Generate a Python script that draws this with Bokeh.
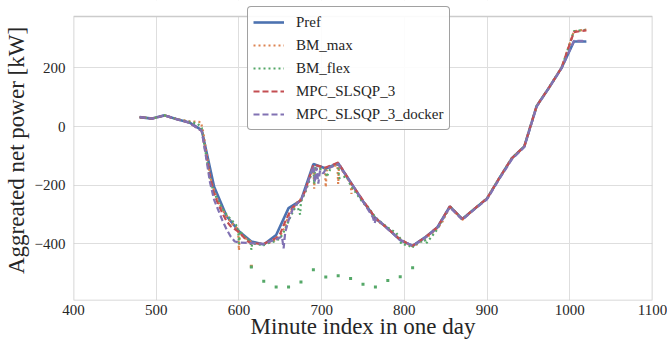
from bokeh.plotting import figure
from bokeh.models import Range1d, Legend, LegendItem, FixedTicker
from bokeh.embed import file_html
from bokeh.resources import INLINE

# ---------------- data ----------------
pref_x = [480, 495, 510, 525, 540, 555, 570, 585, 600, 615, 630, 645, 660, 675, 690, 705, 720,
          735, 750, 765, 780, 795, 810, 825, 840, 855, 870, 885, 900, 915, 930, 945, 960, 975,
          990, 1005, 1020]
pref_y = [32, 27, 38, 25, 14, -12, -205, -305, -357, -392, -402, -370, -278, -252, -128, -143, -125,
          -190, -255, -313, -348, -387, -407, -378, -343, -272, -315, -280, -245, -175, -108, -68, 70, 133,
          200, 290, 290]

bm_max_x = [480, 495, 510, 525, 540, 550, 554, 557, 560, 563, 566, 569, 572, 576, 580, 584, 588, 592,
            596, 599, 600, 601, 605, 610, 614, 616, 625, 635, 645, 650, 655, 660, 665, 670, 675, 680,
            685, 690, 691, 692, 700, 704, 705, 706, 712, 719, 720, 721, 728, 735, 736, 737, 745, 752,
            760, 767, 775, 783, 790, 797, 805, 812, 820, 828, 835, 845, 855, 870, 885, 900, 915, 930,
            945, 960, 975, 990, 1005, 1020]
bm_max_y = [32, 27, 38, 25, 18, 16, 15, -20, -80, -130, -180, -210, -235, -262, -285, -300, -318, -332,
            -342, -350, -422, -362, -375, -385, -392, -397, -400, -398, -386, -372, -345, -305, -282, -260,
            -246, -222, -180, -140, -212, -146, -142, -146, -207, -150, -136, -132, -196, -136, -162, -195,
            -230, -202, -232, -266, -292, -322, -337, -356, -372, -386, -402, -410, -390, -376, -360, -330,
            -274, -318, -280, -245, -175, -108, -68, 70, 133, 200, 325, 330]

bm_flex_x = [480, 495, 510, 525, 540, 550, 555, 558, 561, 564, 567, 570, 575, 580, 585, 590, 595, 599,
             600, 601, 605, 610, 614, 615, 616, 630, 631, 645, 650, 655, 660, 665, 670, 674, 675, 676,
             680, 685, 690, 691, 692, 705, 706, 712, 720, 721, 730, 735, 745, 750, 755, 765, 770, 780,
             790, 795, 796, 805, 810, 811, 825, 826, 840, 855, 870, 885, 900, 915, 930, 945, 960, 975,
             990, 1005, 1020]
bm_flex_y = [32, 27, 38, 25, 16, 10, -5, -60, -110, -160, -200, -225, -255, -280, -300, -316, -330, -345,
             -400, -356, -370, -385, -392, -420, -398, -405, -400, -390, -380, -355, -322, -292, -266, -300,
             -255, -250, -226, -186, -136, -196, -142, -148, -172, -136, -130, -176, -170, -200, -240, -260,
             -270, -310, -322, -345, -362, -382, -400, -405, -414, -405, -386, -400, -350, -272, -316, -280,
             -245, -175, -108, -68, 70, 133, 200, 325, 330]

# isolated low points of BM_flex / BM_max (drawn as dots)
flex_low_x = [615, 630, 645, 660, 675, 690, 705, 720, 735, 750, 765, 780, 795, 810]
flex_low_y = [-479, -527, -547, -547, -530, -488, -513, -509, -518, -538, -547, -525, -512, -481]
max_low_x = [615]
max_low_y = [-476]

mpc_x = [480, 495, 510, 525, 540, 555, 560, 565, 570, 575, 580, 585, 590, 595, 600, 605, 610, 615, 630,
         645, 650, 655, 660, 665, 675, 680, 690, 705, 720, 735, 750, 765, 780, 795, 810, 825, 840, 855,
         870, 885, 900, 915, 930, 945, 960, 975, 990, 1005, 1020]
mpc_y = [32, 27, 38, 25, 13, -15, -90, -170, -230, -265, -295, -322, -340, -350, -360, -375, -390, -398,
         -400, -380, -365, -330, -300, -275, -250, -220, -130, -140, -123, -190, -252, -312, -348, -386,
         -406, -378, -343, -272, -315, -280, -245, -175, -108, -68, 70, 133, 200, 322, 328]

dock_x = [480, 495, 510, 525, 540, 555, 560, 565, 570, 575, 580, 585, 590, 595, 600, 610, 630, 645, 652,
          654, 656, 660, 666, 675, 680, 690, 692, 694, 696, 698, 702, 705, 720, 735, 750, 762, 764, 766,
          780, 795, 810, 825, 840, 855, 870, 885, 900, 915, 930, 945, 960, 975, 990, 1005, 1015, 1020]
dock_y = [32, 27, 38, 25, 13, -15, -100, -190, -250, -285, -320, -350, -375, -392, -395, -397, -400, -385,
          -375, -415, -360, -320, -275, -250, -220, -135, -190, -140, -195, -150, -160, -145, -128, -190,
          -255, -310, -330, -312, -350, -387, -406, -380, -345, -275, -318, -282, -248, -178, -112, -70,
          68, 132, 198, 292, 292, 287]

x_ticks = [400, 500, 600, 700, 800, 900, 1000, 1100]
y_ticks = [-400, -200, 0, 200]
x_title = "Minute index in one day"
y_title = "Aggreated net power [kW]"

# axes limits
x_lo, x_hi = 400, 1100
y_lo, y_hi = -593, 375

# ---------------- figure ----------------
FONT = "Liberation Serif"
TXT = "#262626"
AX_H = 284      # visible axes height in px
TOP_PAD = 16    # free band above the axes (holds the top of the legend)
y_top = y_hi + (y_hi - y_lo) * TOP_PAD / AX_H

p = figure(width=667, height=343, output_backend="svg", toolbar_location=None,
           x_range=Range1d(x_lo, x_hi), y_range=Range1d(y_lo, y_top),
           min_border_left=72, min_border_right=15, min_border_top=0, min_border_bottom=43)
p.background_fill_color = "white"
p.border_fill_color = "white"
p.outline_line_color = None

for ax in (p.xaxis, p.yaxis):
    ax.axis_line_color = None
    ax.major_tick_line_color = None
    ax.minor_tick_line_color = None
    ax.major_tick_out = 0
    ax.major_tick_in = 0
    ax.minor_tick_out = 0
    ax.minor_tick_in = 0
    ax.major_label_text_font = FONT
    ax.major_label_text_font_size = "15px"
    ax.major_label_text_color = TXT
    ax.axis_label_text_font = FONT
    ax.axis_label_text_font_size = "23px"
    ax.axis_label_text_font_style = "normal"
    ax.axis_label_text_color = TXT

p.xaxis.ticker = FixedTicker(ticks=x_ticks)
p.yaxis.ticker = FixedTicker(ticks=y_ticks)
p.yaxis.bounds = (y_lo, y_hi)
p.yaxis.major_label_overrides = {t: ("\u2212" + str(-t) if t < 0 else str(t)) for t in y_ticks}
p.xaxis.axis_label = x_title
p.yaxis.axis_label = y_title
p.xaxis.major_label_standoff = 4
p.yaxis.major_label_standoff = 8
p.xaxis.axis_label_standoff = -4
p.yaxis.axis_label_standoff = 3

p.xgrid.grid_line_color = "#dedede"
p.ygrid.grid_line_color = "#dedede"
p.xgrid.ticker = FixedTicker(ticks=x_ticks)
p.ygrid.ticker = FixedTicker(ticks=y_ticks)

# white band above the axes box (hides grid there) and the light axes border
p.quad(left=[x_lo], right=[x_hi], bottom=[y_hi], top=[y_top], fill_color="white", line_color=None)
p.quad(left=[x_lo], right=[x_hi], bottom=[y_lo], top=[y_hi], fill_color=None,
       line_color="#cccccc", line_width=1.6)

blue, orange, green, red, purple = "#4C72B0", "#DD8452", "#55A868", "#C44E52", "#8172B3"

r_pref = p.line(pref_x, pref_y, line_color=blue, line_width=2.6)
r_max = p.line(bm_max_x, bm_max_y, line_color=orange, line_width=2.2, line_dash="2 3")
p.scatter(max_low_x, max_low_y, marker="square", size=3, fill_color=orange, line_color=None)
r_flex = p.line(bm_flex_x, bm_flex_y, line_color=green, line_width=2.2, line_dash="2 3")
p.scatter(flex_low_x, flex_low_y, marker="square", size=3, fill_color=green, line_color=None)
r_mpc = p.line(mpc_x, mpc_y, line_color=red, line_width=2.2, line_dash="6 3")
r_dock = p.line(dock_x, dock_y, line_color=purple, line_width=2.2, line_dash="6 3")

legend = Legend(items=[
    LegendItem(label="Pref", renderers=[r_pref]),
    LegendItem(label="BM_max", renderers=[r_max]),
    LegendItem(label="BM_flex", renderers=[r_flex]),
    LegendItem(label="MPC_SLSQP_3", renderers=[r_mpc]),
    LegendItem(label="MPC_SLSQP_3_docker", renderers=[r_dock]),
], location=(174, 170))
legend.label_text_font = FONT
legend.label_text_font_size = "15px"
legend.label_text_color = TXT
legend.glyph_width = 31
legend.glyph_height = 20
legend.label_height = 20
legend.spacing = 3
legend.padding = 5
legend.margin = 0
legend.label_standoff = 12
legend.border_line_color = "#444444"
legend.border_line_width = 1
legend.border_radius = 4
legend.background_fill_alpha = 0.9
p.add_layout(legend, "center")

open("out.html", "w").write(file_html(p, INLINE))
